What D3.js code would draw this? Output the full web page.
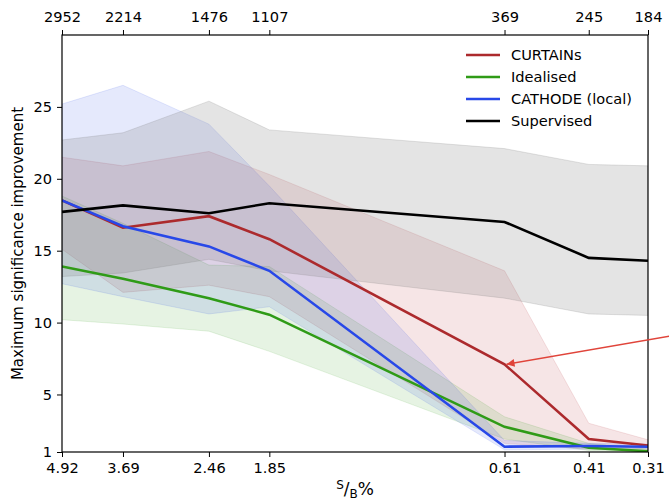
<!DOCTYPE html>
<html>
<head>
<meta charset="utf-8">
<script src="https://cdn.jsdelivr.net/npm/d3@7"></script>
<style>
  html, body { margin: 0; padding: 0; background: #fff; }
  svg { display: block; font-family: "DejaVu Sans", sans-serif; }
</style>
</head>
<body>
<svg id="chart" width="669" height="504"></svg>
<script>
// Signal-to-background ratio (%) and matching signal event counts
const sbValues = [4.92, 3.69, 2.46, 1.85, 0.61, 0.41, 0.31];
const sbTickLabels = ["4.92", "3.69", "2.46", "1.85", "0.61", "0.41", "0.31"];
const nSignalLabels = ["2952", "2214", "1476", "1107", "369", "245", "184"];
const yTicks = [1, 5, 10, 15, 20, 25];

// Median significance improvement and its band, per method
const curtains     = [18.5, 16.6, 17.4, 15.8, 7.1, 1.9, 1.45];
const curtainsHigh = [21.5, 20.9, 21.9, 20.3, 13.6, 3.0, 1.85];
const curtainsLow  = [15.1, 12.1, 12.6, 11.8, 1.6, 1.2, 1.1];

const idealised     = [13.9, 13.05, 11.7, 10.55, 2.75, 1.3, 1.05];
const idealisedHigh = [18.8, 16.9, 14.0, 13.9, 3.45, 1.6, 1.2];
const idealisedLow  = [10.2, 9.9, 9.4, 8.0, 1.9, 1.1, 1.0];

const cathode     = [18.5, 16.7, 15.3, 13.6, 1.37, 1.42, 1.37];
const cathodeHigh = [25.2, 26.5, 23.8, 19.5, 1.8, 1.6, 1.55];
const cathodeLow  = [12.7, 11.8, 10.6, 11.1, 1.15, 1.2, 1.2];

const supervised     = [17.7, 18.15, 17.6, 18.3, 17.0, 14.5, 14.3];
const supervisedHigh = [22.7, 23.2, 25.4, 23.4, 22.1, 21.0, 20.9];
const supervisedLow  = [13.2, 13.45, 14.4, 13.6, 11.7, 10.6, 10.5];

const seriesNames = ["CURTAINs", "Idealised", "CATHODE (local)", "Supervised"];
const lineColors = ["#ac2a2d", "#2f9b17", "#2848e8", "#000000"];
const bandColors = ["#b22b2e", "#2f9b17", "#2848e8", "#777777"];
const bandOpacity = [0.12, 0.12, 0.12, 0.2];

// Point the annotation arrow at this CURTAINs value
const arrowIndex = 4;

const series = [
  { mid: curtains, hi: curtainsHigh, lo: curtainsLow },
  { mid: idealised, hi: idealisedHigh, lo: idealisedLow },
  { mid: cathode, hi: cathodeHigh, lo: cathodeLow },
  { mid: supervised, hi: supervisedHigh, lo: supervisedLow }
];

const W = 669, H = 504;
const margin = { top: 35, right: 21, bottom: 52, left: 62 };
const iw = W - margin.left - margin.right;
const ih = H - margin.top - margin.bottom;
const fontSize = 14.6;

const svg = d3.select("#chart");
const defs = svg.append("defs");
const g = svg.append("g").attr("transform", `translate(${margin.left},${margin.top})`);

const x = d3.scaleLog().domain([sbValues[0], sbValues[sbValues.length - 1]]).range([0, iw]);
const y = d3.scaleLinear().domain([1, 30]).range([ih, 0]);

defs.append("clipPath").attr("id", "plot-area")
  .append("rect").attr("width", iw).attr("height", ih);

const plot = g.append("g").attr("clip-path", "url(#plot-area)");

// Bands
series.forEach((s, i) => {
  const area = d3.area()
    .x((d, j) => x(sbValues[j]))
    .y0((d, j) => y(s.lo[j]))
    .y1((d, j) => y(s.hi[j]));
  plot.append("path")
    .datum(s.mid)
    .attr("d", area)
    .attr("fill", bandColors[i])
    .attr("fill-opacity", bandOpacity[i])
    .attr("stroke", bandColors[i])
    .attr("stroke-opacity", bandOpacity[i])
    .attr("stroke-width", 1);
});

// Median lines
series.forEach((s, i) => {
  const line = d3.line().x((d, j) => x(sbValues[j])).y(d => y(d));
  plot.append("path")
    .datum(s.mid)
    .attr("d", line)
    .attr("fill", "none")
    .attr("stroke", lineColors[i])
    .attr("stroke-width", 2.6)
    .attr("stroke-linejoin", "miter");
});

// Bottom axis: S/B %
const xAxis = d3.axisBottom(x).tickValues(sbValues)
  .tickFormat((d, i) => sbTickLabels[i]).tickSize(5).tickPadding(6);
const gx = g.append("g").attr("transform", `translate(0,${ih})`).call(xAxis);

// Top axis: number of signal events
const xTop = d3.axisTop(x).tickValues(sbValues)
  .tickFormat((d, i) => nSignalLabels[i]).tickSize(5).tickPadding(8);
const gxt = g.append("g").call(xTop);

// Left axis
const yAxis = d3.axisLeft(y).tickValues(yTicks).tickSize(5).tickPadding(5);
const gy = g.append("g").call(yAxis);

[gx, gxt, gy].forEach(ax => {
  ax.selectAll("text").attr("font-size", fontSize).attr("fill", "#000")
    .attr("font-family", "'DejaVu Sans', sans-serif");
  ax.selectAll("line").attr("stroke", "#000").attr("stroke-width", 1);
  ax.select(".domain").remove();
});

// Frame
g.append("rect").attr("width", iw).attr("height", ih)
  .attr("fill", "none").attr("stroke", "#000").attr("stroke-width", 1.2);

// Axis titles
svg.append("text")
  .attr("transform", `translate(23,${margin.top + ih / 2}) rotate(-90)`)
  .attr("text-anchor", "middle")
  .attr("font-size", 15)
  .text("Maximum significance improvement");

const xt = svg.append("text")
  .attr("x", margin.left + iw / 2)
  .attr("y", 495)
  .attr("text-anchor", "middle")
  .attr("font-size", 17);
xt.append("tspan").attr("font-size", 12).attr("dy", -6).text("S");
xt.append("tspan").attr("dy", 6).text("/");
xt.append("tspan").attr("font-size", 12).attr("dy", 3).text("B");
xt.append("tspan").attr("dy", -3).text("%");

// Legend
const legend = g.append("g").attr("transform", `translate(${466 - margin.left},${55 - margin.top})`);
seriesNames.forEach((name, i) => {
  const row = legend.append("g").attr("transform", `translate(0,${i * 22})`);
  row.append("line").attr("x1", 0).attr("x2", 34).attr("y1", 0).attr("y2", 0)
    .attr("stroke", lineColors[i]).attr("stroke-width", 2.6);
  row.append("text").attr("x", 45).attr("y", 0).attr("dy", "0.35em")
    .attr("font-size", fontSize).text(name);
});

// Annotation arrow pointing at the CURTAINs point
const tipX = margin.left + x(sbValues[arrowIndex]) + 2;
const tipY = margin.top + y(curtains[arrowIndex]);
const tailX = tipX + 168, tailY = tipY - 29;
defs.append("marker")
  .attr("id", "arrowhead").attr("viewBox", "0 0 10 10")
  .attr("refX", 10).attr("refY", 5)
  .attr("markerWidth", 11).attr("markerHeight", 8)
  .attr("markerUnits", "userSpaceOnUse")
  .attr("orient", "auto")
  .append("path").attr("d", "M0,0 L10,5 L0,10 z").attr("fill", "#e0443a");
svg.append("line")
  .attr("x1", tailX).attr("y1", tailY).attr("x2", tipX).attr("y2", tipY)
  .attr("stroke", "#e0443a").attr("stroke-width", 1.5)
  .attr("marker-end", "url(#arrowhead)");
</script>
</body>
</html>
